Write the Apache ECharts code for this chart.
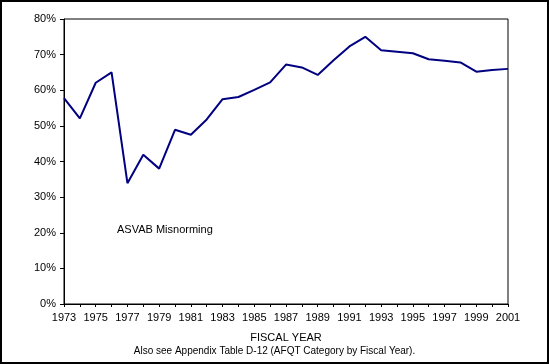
<!DOCTYPE html>
<html><head><meta charset="utf-8">
<script src="https://cdn.jsdelivr.net/npm/echarts@6/dist/echarts.min.js"></script>
<style>html,body{margin:0;padding:0;background:#fff}#c{width:549px;height:364px}</style>
</head><body><div id="c"></div>
<script>
const years = ['1973','1974','1975','1976','1977','1978','1979','1980','1981','1982','1983','1984','1985','1986','1987','1988','1989','1990','1991','1992','1993','1994','1995','1996','1997','1998','1999','2000','2001'];
const values = [57.8,52.1,62.1,65.0,33.9,41.9,38.0,48.9,47.5,51.8,57.5,58.1,60.1,62.2,67.2,66.4,64.3,68.4,72.3,75.0,71.2,70.8,70.4,68.7,68.3,67.8,65.2,65.7,66.0];
const yTicks = [0,10,20,30,40,50,60,70,80];
const xTitle = 'FISCAL YEAR';
const footnote = 'Also see Appendix Table D-12 (AFQT Category by Fiscal Year).';
const annotation = 'ASVAB Misnorming';

const font = 'Arial, "Liberation Sans", sans-serif';
const chart = echarts.init(document.getElementById('c'), null, {renderer:'canvas'});
chart.setOption({
  animation:false,
  backgroundColor:'#fff',
  grid:{left:64,right:41,top:19,bottom:60,show:true,borderColor:'#000',borderWidth:1,backgroundColor:'transparent'},
  xAxis:{type:'category',data:years,boundaryGap:false,
    axisLine:{lineStyle:{color:'#000',width:1}},
    axisTick:{show:true,interval:0,length:3,lineStyle:{color:'#000'}},
    axisLabel:{interval:1,color:'#000',fontFamily:font,fontSize:11,margin:8},
    name:xTitle,nameLocation:'middle',nameGap:28,nameTextStyle:{color:'#000',fontFamily:font,fontSize:11}
  },
  yAxis:{type:'value',min:yTicks[0],max:yTicks[yTicks.length-1],interval:10,
    splitLine:{show:false},
    axisLine:{show:true,lineStyle:{color:'#000',width:1}},
    axisTick:{show:true,length:4,lineStyle:{color:'#000'}},
    axisLabel:{color:'#000',fontFamily:font,fontSize:11,margin:8,formatter:v=>v+'%'}
  },
  series:[{type:'line',data:values,symbol:'none',lineStyle:{color:'#000080',width:2},itemStyle:{color:'#000080'}}],
  graphic:[
    {type:'rect',shape:{x:1,y:1,width:547,height:362},style:{fill:'none',stroke:'#000',lineWidth:2},silent:true},
    {type:'text',left:117,top:224,style:{text:annotation,fill:'#000',font:'11px '+font}},
    {type:'text',left:'center',top:346,style:{text:footnote,fill:'#000',font:'10px '+font},x:-13}
  ]
});
</script></body></html>
